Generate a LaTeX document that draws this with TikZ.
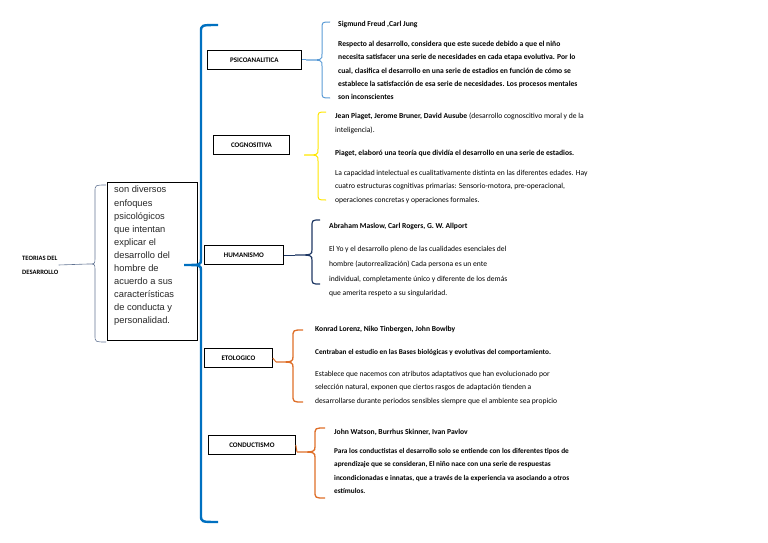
\documentclass[tikz,border=0pt]{standalone}
\usepackage{fontspec}
\setmainfont{Carlito}
\newfontfamily\arialf{Liberation Sans}
\definecolor{bigblue}{RGB}{0,112,192}
\definecolor{ltblue}{RGB}{91,155,213}
\definecolor{yel}{RGB}{255,230,0}
\definecolor{navy}{RGB}{31,56,100}
\definecolor{orng}{RGB}{222,110,40}
\newcommand{\brc}[7]{%
\pgfmathsetmacro{\ya}{#3+7}\pgfmathsetmacro{\yb}{#4-6}\pgfmathsetmacro{\yc}{#4+6}\pgfmathsetmacro{\yd}{#5-7}%
\draw[#1] (#6,#3) .. controls (#2,#3) .. (#2,\ya) -- (#2,\yb) .. controls (#2,#4) .. (#7,#4) .. controls (#2,#4) .. (#2,\yc) -- (#2,\yd) .. controls (#2,#5) .. (#6,#5);}
\begin{document}
\begin{tikzpicture}[x=1pt,y=-1pt,
 cat/.style={draw,line width=0.8pt,font=\fontsize{7}{8}\selectfont\bfseries,minimum height=19pt,inner sep=0pt},
 txt/.style={anchor=north west,inner sep=0pt,align=left,font=\fontsize{7.6}{13.3}\selectfont},
 conn/.style={line width=1pt}]
\useasboundingbox (0,0) rectangle (768,543);
\node[anchor=west,align=left,inner sep=0pt,font=\fontsize{6.6}{14}\selectfont\bfseries] (title) at (22,265) {TEORIAS DEL\\DESARROLLO};
\brc{navy!70,line width=0.6pt}{95}{185}{264}{342}{106}{88}
\coordinate (tt) at (88,264);
\draw[navy!70,line width=0.6pt] (title.east) -- (tt);
\node[draw,line width=0.7pt,minimum width=90pt,minimum height=158pt,anchor=north west] (desc) at (107,182) {};
\node[anchor=north west,inner sep=0pt,align=left,font=\arialf\fontsize{9.3}{13.1}\selectfont,text=black!85] (desct) at (114,186) {son diversos\\enfoques\\psicológicos\\que intentan\\explicar el\\desarrollo del\\hombre de\\acuerdo a sus\\características\\de conducta y\\personalidad.};
\brc{bigblue,line width=2.4pt}{201}{25}{265}{522}{218}{184}
\node[cat,minimum width=94pt,anchor=west] (psi) at (207,60) {PSICOANALITICA};
\node[cat,minimum width=76pt,anchor=west] (cog) at (213,145) {COGNOSITIVA};
\node[cat,minimum width=79pt,anchor=west] (hum) at (204,255) {HUMANISMO};
\node[cat,minimum width=68pt,anchor=west] (eto) at (204,358) {ETOLOGICO};
\node[cat,minimum width=87pt,anchor=west] (con) at (208,445) {CONDUCTISMO};
\brc{ltblue,line width=1pt}{322}{22}{60}{98}{330}{306}
\coordinate (p1) at (306,60); \draw[ltblue,conn] (psi.east) -- (p1);
\brc{yel,line width=1pt}{318}{112}{155}{200}{326}{304}
\brc{navy,line width=1.2pt}{312}{220}{255}{284}{320}{295}
\coordinate (p3) at (295,255); \draw[navy,conn] (hum.east) -- (p3);
\brc{orng,line width=1.3pt}{293}{330}{362}{402}{303}{276}
\coordinate (p4) at (276,362); \draw[orng,conn] (eto.east) -- (p4);
\brc{orng,line width=1.3pt}{315}{428}{452}{498}{325}{297}
\coordinate (p5) at (297,452); \draw[orng,conn] (con.east) -- (p5);
% texts
\node[txt,font=\fontsize{7.6}{13.3}\selectfont\bfseries] (a1) at (338,21) {Sigmund Freud ,Carl Jung};
\node[txt,font=\fontsize{7.6}{13.3}\selectfont\bfseries] (a2) at (338,41) {Respecto al desarrollo, considera que este sucede debido a que el niño\\necesita satisfacer una serie de necesidades en cada etapa evolutiva. Por lo\\cual, clasifica el desarrollo en una serie de estadios en función de cómo se\\establece la satisfacción de esa serie de necesidades. Los procesos mentales\\son inconscientes};
\node[txt] (b1) at (335,113) {\textbf{Jean Piaget, Jerome Bruner, David Ausube} (desarrollo cognoscitivo moral y de la\\inteligencia).};
\node[txt,font=\fontsize{7.6}{13.3}\selectfont\bfseries] (b2) at (335,150) {Piaget, elaboró una teoría que dividía el desarrollo en una serie de estadios.};
\node[txt] (b3) at (335,170) {La capacidad intelectual es cualitativamente distinta en las diferentes edades. Hay\\cuatro estructuras cognitivas primarias: Sensorio-motora, pre-operacional,\\operaciones concretas y operaciones formales.};
\node[txt,font=\fontsize{7.6}{13.3}\selectfont\bfseries] (c1) at (329,223) {Abraham Maslow, Carl Rogers, G. W. Allport};
\node[txt,font=\fontsize{7.6}{14.8}\selectfont] (c2) at (329,246) {El Yo y el desarrollo pleno de las cualidades esenciales del\\hombre (autorrealización) Cada persona es un ente\\individual, completamente único y diferente de los demás\\que amerita respeto a su singularidad.};
\node[txt,font=\fontsize{7.6}{13.3}\selectfont\bfseries] (d1) at (315,326) {Konrad Lorenz, Niko Tinbergen, John Bowlby};
\node[txt,font=\fontsize{7.3}{13.3}\selectfont\bfseries] (d2) at (315,349) {Centraban el estudio en las Bases biológicas y evolutivas del comportamiento.};
\node[txt] (d3) at (315,371) {Establece que nacemos con atributos adaptativos que han evolucionado por\\selección natural, exponen que ciertos rasgos de adaptación tienden a\\desarrollarse durante periodos sensibles siempre que el ambiente sea propicio};
\node[txt,font=\fontsize{7.6}{13.3}\selectfont\bfseries] (e1) at (334,429) {John Watson, Burrhus Skinner, Ivan Pavlov};
\node[txt,font=\fontsize{7.3}{13.5}\selectfont\bfseries] (e2) at (334,448) {Para los conductistas el desarrollo solo se entiende con los diferentes tipos de\\aprendizaje que se consideran, El niño nace con una serie de respuestas\\incondicionadas e innatas, que a través de la experiencia va asociando a otros\\estímulos.};
\end{tikzpicture}
\end{document}
